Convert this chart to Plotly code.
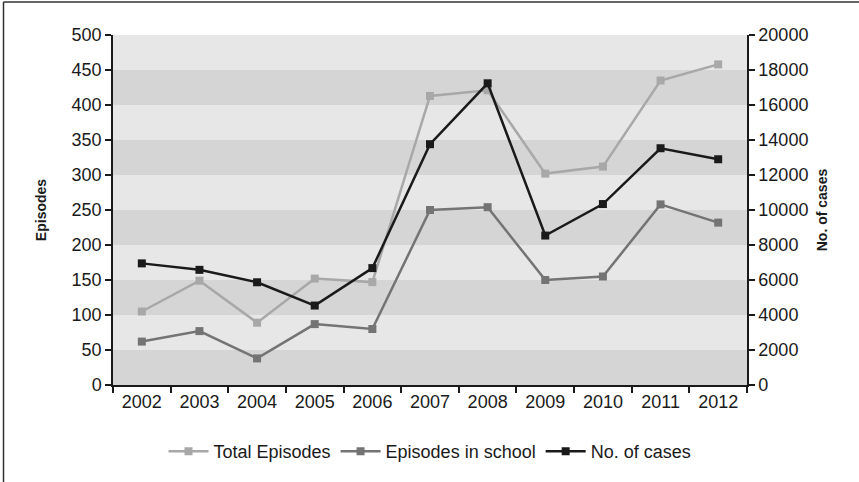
import plotly.graph_objects as go

years = ["2002", "2003", "2004", "2005", "2006", "2007", "2008", "2009", "2010", "2011", "2012"]
total_episodes = [105, 149, 89, 152, 147, 413, 421, 302, 312, 435, 458]
episodes_school = [62, 77, 38, 87, 80, 250, 254, 150, 155, 258, 232]
no_cases = [6950, 6580, 5870, 4540, 6680, 13760, 17240, 8540, 10340, 13530, 12900]

band_edges = list(range(0, 500, 100))  # darker bands start at these values, 50 wide

FONT = "Liberation Sans, Arial, sans-serif"

fig = go.Figure()
fig.add_trace(go.Scatter(x=years, y=total_episodes, name="Total Episodes", mode="lines+markers",
                         line=dict(color="#a8a8a8", width=2.5),
                         marker=dict(symbol="square", size=8, color="#a8a8a8"), yaxis="y"))
fig.add_trace(go.Scatter(x=years, y=episodes_school, name="Episodes in school", mode="lines+markers",
                         line=dict(color="#747474", width=2.5),
                         marker=dict(symbol="square", size=8, color="#747474"), yaxis="y"))
fig.add_trace(go.Scatter(x=years, y=no_cases, name="No. of cases", mode="lines+markers",
                         line=dict(color="#1a1a1a", width=2.5),
                         marker=dict(symbol="square", size=8, color="#1a1a1a"), yaxis="y2"))

shapes = []
for b in band_edges:
    shapes.append(dict(type="rect", xref="paper", yref="y", x0=0, x1=1, y0=b, y1=b + 50,
                       fillcolor="#d5d5d5", line=dict(width=0), layer="below"))
# figure frame (left and top)
shapes.append(dict(type="line", xref="paper", yref="paper",
                   x0=(3.5 - 113) / 634, x1=(3.5 - 113) / 634, y0=(385 - 482) / 350, y1=(385 - 2) / 350,
                   line=dict(color="#333333", width=1.5)))
shapes.append(dict(type="line", xref="paper", yref="paper",
                   x0=(3.5 - 113) / 634, x1=(859 - 113) / 634, y0=(385 - 2) / 350, y1=(385 - 2) / 350,
                   line=dict(color="#333333", width=1.5)))

fig.update_layout(
    width=859, height=482,
    margin=dict(l=113, r=112, t=35, b=97),
    paper_bgcolor="white", plot_bgcolor="#e7e7e7",
    font=dict(family=FONT, size=18, color="#1a1a1a"),
    shapes=shapes,
    showlegend=True,
    legend=dict(orientation="h", x=0.5, xanchor="center", y=-0.19, yanchor="middle",
                font=dict(size=18, family=FONT), itemwidth=40, tracegroupgap=0,
                bgcolor="rgba(0,0,0,0)"),
    xaxis=dict(type="category", range=[-0.5, 10.5], tickson="boundaries", ticks="outside",
               ticklen=6, tickwidth=1.5, tickcolor="#1a1a1a", showline=True, linecolor="#1a1a1a",
               linewidth=1.5, showgrid=False, zeroline=False, tickfont=dict(size=18)),
    yaxis=dict(range=[0, 500], dtick=50, ticks="outside", ticklen=6, tickwidth=1.5,
               tickcolor="#1a1a1a", showline=True, linecolor="#1a1a1a", linewidth=1.5,
               showgrid=False, zeroline=False, tickfont=dict(size=18),
               title=dict(text="<b>Episodes</b>", font=dict(size=14), standoff=22)),
    yaxis2=dict(range=[0, 20000], dtick=2000, overlaying="y", side="right", ticks="outside",
                ticklen=6, tickwidth=1.5, tickcolor="#1a1a1a", showline=True, linecolor="#1a1a1a",
                linewidth=1.5, showgrid=False, zeroline=False, tickfont=dict(size=18),
                tickformat="d",
                title=dict(text="<b>No. of cases</b>", font=dict(size=14), standoff=10)),
)

fig.write_html("out.html")
